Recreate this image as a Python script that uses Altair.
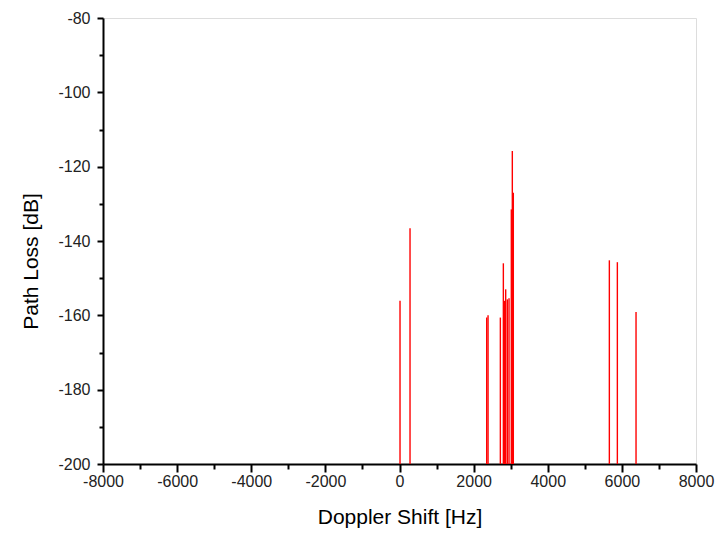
import altair as alt
import pandas as pd

doppler_hz = [14, 284, 2353, 2389, 2721, 2802, 2829, 2865, 2909, 2955, 3017, 3044, 3071, 5662, 5878, 6382]
path_loss_db = [-156.1, -136.6, -160.6, -160.0, -160.6, -146.0, -156.1, -153.0, -155.7, -155.4, -131.5, -115.8, -127.0, -145.2, -145.7, -159.1]
x_major = [-8000, -6000, -4000, -2000, 0, 2000, 4000, 6000, 8000]
x_minor = [-7000, -5000, -3000, -1000, 1000, 3000, 5000, 7000]
y_major = [-200, -180, -160, -140, -120, -100, -80]
y_minor = [-190, -170, -150, -130, -110, -90]

df = pd.DataFrame({"f": doppler_hz, "pl": path_loss_db, "base": [-200] * len(doppler_hz)})

font = "Liberation Sans"
xs = alt.Scale(domain=[-8000, 8000], nice=False, zero=False)
ys = alt.Scale(domain=[-200, -80], nice=False, zero=False)

main = alt.Chart(df).mark_rule(color="#ff0000", strokeWidth=1.4).encode(
    x=alt.X("f:Q", scale=xs, axis=alt.Axis(
        title="Doppler Shift [Hz]", values=x_major, labelExpr="'' + datum.value", orient="bottom",
        grid=False, domainColor="black", domainWidth=2, tickColor="black", tickWidth=2,
        tickSize=8, labelPadding=1, labelFlush=False, labelOverlap=False,
        labelFont=font, labelFontSize=16, labelColor="#222",
        titleFont=font, titleFontSize=21, titleFontWeight="normal", titleColor="black",
        titlePadding=17)),
    y=alt.Y("pl:Q", scale=ys, axis=alt.Axis(
        title="Path Loss [dB]", values=y_major, labelExpr="'' + datum.value", orient="left",
        grid=False, domainColor="black", domainWidth=2, tickColor="black", tickWidth=2,
        tickSize=6, labelPadding=7, labelFlush=False, labelOverlap=False,
        labelFont=font, labelFontSize=16, labelColor="#222",
        titleFont=font, titleFontSize=21, titleFontWeight="normal", titleColor="black",
        titleX=-62, titleY=243)),
    y2="base:Q",
)

minor = alt.Chart(df).mark_point(opacity=0).encode(
    x=alt.X("f:Q", scale=xs, axis=alt.Axis(
        title=None, values=x_minor, labels=False, orient="bottom", grid=False, domain=False,
        tickColor="black", tickWidth=2, tickSize=5)),
    y=alt.Y("pl:Q", scale=ys, axis=alt.Axis(
        title=None, values=y_minor, labels=False, orient="left", grid=False, domain=False,
        tickColor="black", tickWidth=2, tickSize=4)),
)

chart = alt.layer(main, minor).resolve_axis(x="independent", y="independent").properties(
    width=593, height=446,
    autosize=alt.AutoSizeParams(type="none"),
    padding={"left": 95, "top": 10, "right": 24, "bottom": 70},
).configure_view(stroke=None).configure(background="white")

chart.save("out.html", embed_options={"renderer": "svg", "actions": False})
